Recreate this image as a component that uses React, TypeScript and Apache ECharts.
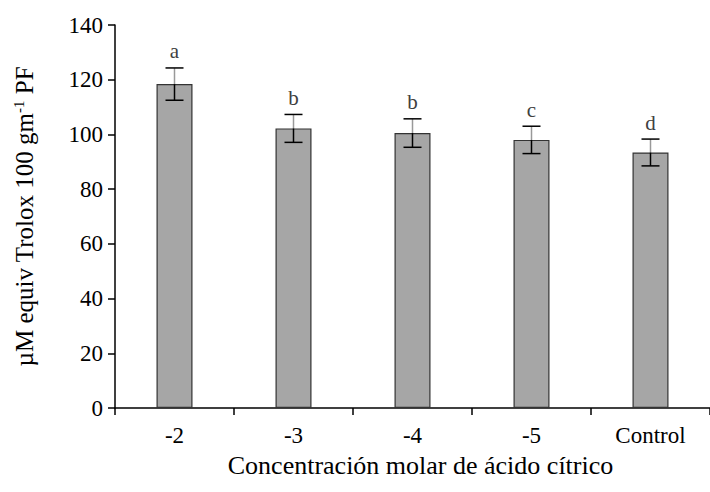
import React, { useEffect, useRef } from "react";
import * as echarts from "echarts";

const categories = ["-2", "-3", "-4", "-5", "Control"];
const values = [118.4, 102.2, 100.5, 98.0, 93.4];
const errors = [5.9, 5.1, 5.2, 5.0, 4.9];
const letters = ["a", "b", "b", "c", "d"];
const yTicks = { min: 0, max: 140, interval: 20 };

const FONT = "'Liberation Serif', 'Times New Roman', serif";

export default function App() {
  const ref = useRef<HTMLDivElement>(null);
  useEffect(() => {
    if (!ref.current) return;
    const chart = echarts.init(ref.current, null, { renderer: "svg" });
    const errData = values.map((v, i) => [i, v, v - errors[i], v + errors[i]]);
    chart.setOption({
      animation: false,
      backgroundColor: "#ffffff",
      grid: { left: 115, top: 25, width: 603, height: 383, containLabel: false },
      xAxis: {
        type: "category",
        data: categories,
        boundaryGap: true,
        axisLine: { lineStyle: { color: "#000", width: 1.5 } },
        axisTick: { show: true, length: 7, inside: false, lineStyle: { color: "#000", width: 1.5 } },
        axisLabel: { color: "#000", fontFamily: FONT, fontSize: 23, margin: 16 },
        name: "Concentración molar de ácido cítrico",
        nameLocation: "middle",
        nameGap: 44,
        nameTextStyle: { color: "#000", fontFamily: FONT, fontSize: 26, fontWeight: "normal", padding: [0, 0, 0, 16] },
      },
      yAxis: {
        type: "value",
        min: yTicks.min,
        max: yTicks.max,
        interval: yTicks.interval,
        splitLine: { show: false },
        axisLine: { show: true, lineStyle: { color: "#000", width: 1.5 } },
        axisTick: { show: true, length: 7, lineStyle: { color: "#000", width: 1.5 } },
        axisLabel: { color: "#000", fontFamily: FONT, fontSize: 23, margin: 12 },
        name: "{a|µM equiv Trolox 100 gm}{s|-1}{a| PF}",
        nameLocation: "middle",
        nameGap: 77,
        nameRotate: 90,
        nameTextStyle: {
          color: "#000",
          fontFamily: FONT,
          fontSize: 25,
          fontWeight: "normal",
          rich: {
            a: { fontFamily: FONT, fontSize: 25, fontWeight: "normal", color: "#000" },
            s: { fontFamily: FONT, fontSize: 15, fontWeight: "normal", color: "#000", verticalAlign: "top", padding: [0, 0, 12, 0] },
          },
        },
      },
      series: [
        {
          type: "bar",
          data: values,
          barWidth: 36,
          itemStyle: { color: "#a6a6a6", borderColor: "#333", borderWidth: 1.2 },
          z: 2,
        },
        {
          type: "custom",
          data: errData,
          z: 3,
          renderItem: (params: any, api: any) => {
            const x = api.coord([api.value(0), api.value(1)])[0];
            const yv = api.coord([api.value(0), api.value(1)])[1];
            const yl = api.coord([api.value(0), api.value(2)])[1];
            const yh = api.coord([api.value(0), api.value(3)])[1];
            const cap = 9;
            const lbl = letters[params.dataIndex];
            return {
              type: "group",
              children: [
                { type: "line", shape: { x1: x, y1: yh, x2: x, y2: yv }, style: { stroke: "#999", lineWidth: 1.5 } },
                { type: "line", shape: { x1: x, y1: yv, x2: x, y2: yl }, style: { stroke: "#000", lineWidth: 1.5 } },
                { type: "line", shape: { x1: x - cap, y1: yh, x2: x + cap, y2: yh }, style: { stroke: "#000", lineWidth: 1.5 } },
                { type: "line", shape: { x1: x - cap, y1: yl, x2: x + cap, y2: yl }, style: { stroke: "#000", lineWidth: 1.5 } },
                {
                  type: "text",
                  style: {
                    x: x,
                    y: yh - 6,
                    text: lbl,
                    textAlign: "center",
                    textVerticalAlign: "bottom",
                    fontFamily: FONT,
                    fontSize: 21,
                    fill: "#404040",
                  },
                },
              ],
            };
          },
        },
      ],
    });
    return () => chart.dispose();
  }, []);
  return <div ref={ref} style={{ width: 710, height: 492, position: "absolute", left: 0, top: 0 }} />;
}
